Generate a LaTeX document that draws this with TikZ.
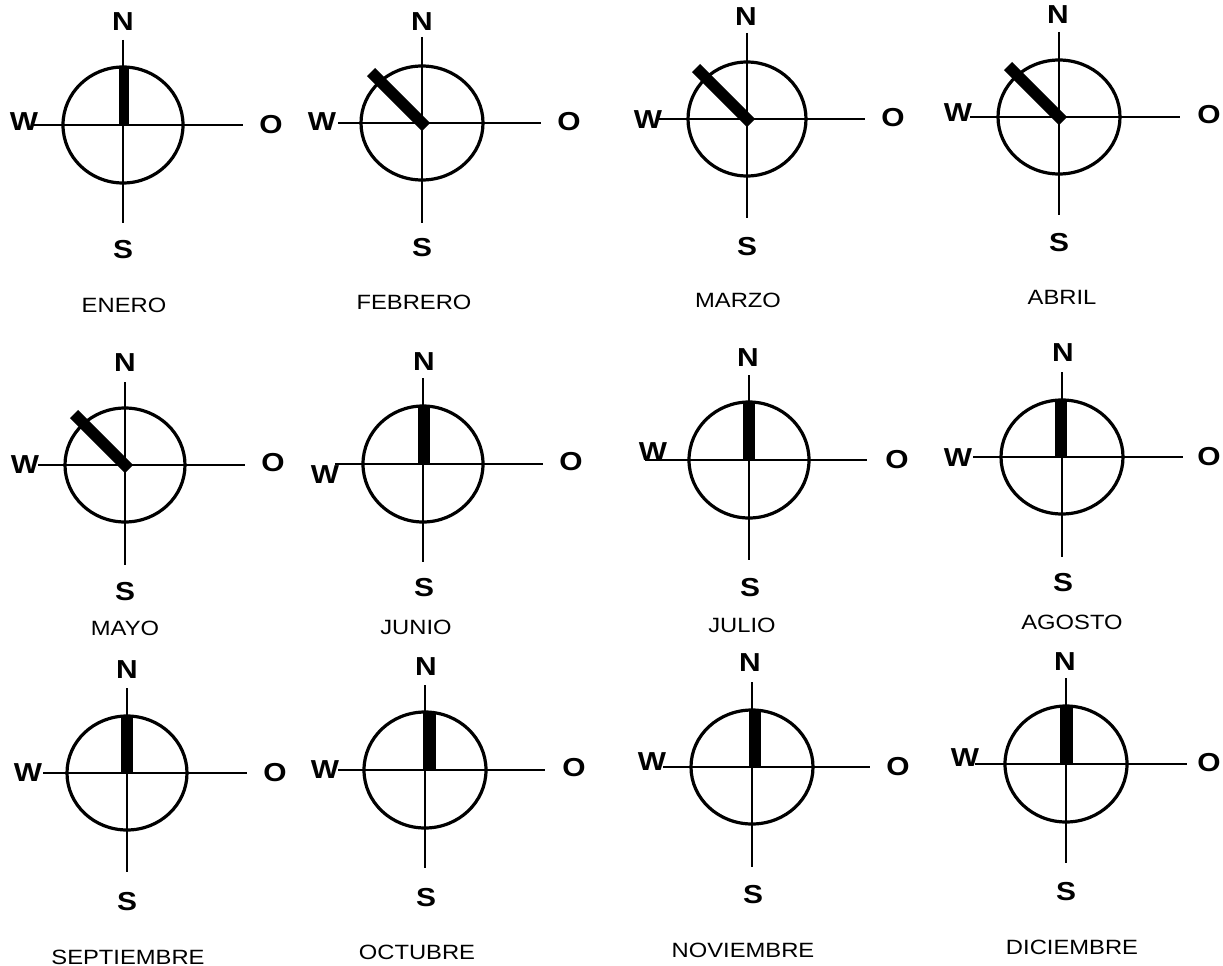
\documentclass[tikz,border=0pt]{standalone}
\usepackage{fontspec}
\setmainfont{Liberation Sans}
\newfontfamily\dirfont[FakeStretch=1.15]{Liberation Sans}
\newfontfamily\monthfont[FakeStretch=1.15]{Liberation Sans}
\begin{document}
\begin{tikzpicture}[x=0.75pt,y=-0.75pt,
  axis/.style={line width=2.2pt},
  ring/.style={line width=2.4pt},
  calm/.style={fill=black},
  wind/.style={line width=8.6pt, line cap=butt},
  dir/.style={font=\dirfont\bfseries\fontsize{19.5}{19.5}\selectfont, inner sep=0pt},
  month/.style={font=\monthfont\fontsize{15.5}{15.5}\selectfont, inner sep=0pt}]
\useasboundingbox (0,0) rectangle (1223,966);
\fill[white] (0,0) rectangle (1223,966);
% roses: id / cx / cy / rx / ry / vtop / vbot / hleft / hright
\foreach \i/\cx/\cy/\rx/\ry/\vt/\vb/\hl/\hr in {
  1/123/125/60/58/40/223/33/243,
  2/422/123/61/57/37/223/338/541,
  3/747/119/59/57/33/218/657/865,
  4/1059/117/61/57/32/215/970/1180,
  5/125/465/60/57/382/565/38/245,
  6/423/464/60/58/378/562/335/543,
  7/749/460/60/58/375/560/645/867,
  8/1062/457/61/57/372/557/973/1183,
  9/127/773/60/57/688/872/43/247,
  10/425/770/61/58/685/868/338/545,
  11/752/767/61/57/682/867/663/870,
  12/1066/764/61/58/678/863/975/1187}{
  \coordinate (c\i) at (\cx,\cy);
  \coordinate (n\i) at (\cx,\vt);
  \coordinate (s\i) at (\cx,\vb);
  \coordinate (w\i) at (\hl,\cy);
  \coordinate (e\i) at (\hr,\cy);
  \draw[axis] (n\i) -- (s\i);
  \draw[axis] (w\i) -- (e\i);
  \draw[ring] (c\i) ellipse [x radius=\rx, y radius=\ry];
}
% calm bars pointing north: id / x1 / y1 / x2 / y2
\foreach \i/\xa/\ya/\xb/\yb in {
  1/119/67/129/126,
  6/418/406/430/464,
  7/743/402/755/461,
  8/1055/400/1067/458,
  9/121/717/133/774,
  10/423/712/436/771,
  11/749/710/761/768,
  12/1060/706/1073/764}{
  \fill[calm] (\xa,\ya) rectangle (\xb,\yb);
}
% bars pointing north-west
\foreach \i in {2,3,4,5}{
  \draw[wind] ([shift={(4,4)}]c\i) -- ([shift={(-51,-51)}]c\i);
}
% labels: id / N / S / W / O / month
\foreach \i/\nx/\ny/\sx/\sy/\wx/\wy/\ox/\oy/\mx/\my/\m in {
  1/123/22/123/250/24/122/271/125/124/305/ENERO,
  2/422/22/422/248/322/122/569/122/414/302/FEBRERO,
  3/746/17/747/247/648/120/893/118/738/300/MARZO,
  4/1058/15/1059/243/958/113/1209/115/1062/297/ABRIL,
  5/125/363/125/592/25/465/273/463/125/628/MAYO,
  6/424/362/424/588/325/475/571/462/416/627/JUNIO,
  7/748/358/750/588/653/452/897/460/742/625/JULIO,
  8/1063/353/1063/583/958/458/1209/457/1072/622/AGOSTO,
  9/127/670/127/902/28/773/275/773/128/957/SEPTIEMBRE,
  10/426/667/426/898/325/770/574/768/417/952/OCTUBRE,
  11/750/663/753/895/652/762/898/767/743/950/NOVIEMBRE,
  12/1065/662/1066/892/965/758/1209/763/1072/947/DICIEMBRE}{
  \node[dir] (N\i) at (\nx,\ny) {N};
  \node[dir] (S\i) at (\sx,\sy) {S};
  \node[dir] (W\i) at (\wx,\wy) {W};
  \node[dir] (O\i) at (\ox,\oy) {O};
  \node[month] (M\i) at (\mx,\my) {\m};
}
\end{tikzpicture}
\end{document}
